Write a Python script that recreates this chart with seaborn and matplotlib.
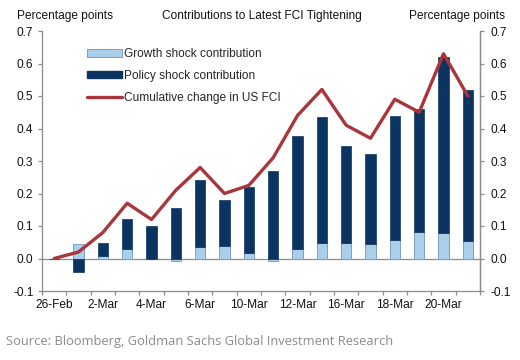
import numpy as np
import pandas as pd
import matplotlib
matplotlib.use("Agg")
import matplotlib.pyplot as plt
import seaborn as sns
from matplotlib.patches import Patch
from matplotlib.lines import Line2D

dates = ["26-Feb", "27-Feb", "2-Mar", "3-Mar", "4-Mar", "5-Mar", "6-Mar", "9-Mar",
         "10-Mar", "11-Mar", "12-Mar", "13-Mar", "16-Mar", "17-Mar", "18-Mar",
         "19-Mar", "20-Mar", "23-Mar"]
growth = [0.0, 0.045, 0.009, 0.028, -0.003, -0.008, 0.036, 0.039, 0.018, -0.007,
          0.028, 0.048, 0.048, 0.045, 0.058, 0.082, 0.079, 0.055]
policy = [0.0, -0.041, 0.039, 0.094, 0.100, 0.156, 0.206, 0.141, 0.202, 0.269,
          0.349, 0.387, 0.298, 0.278, 0.382, 0.377, 0.541, 0.465]
fci = [0.0, 0.02, 0.08, 0.17, 0.12, 0.21, 0.28, 0.20, 0.225, 0.31, 0.44, 0.52,
       0.41, 0.37, 0.49, 0.45, 0.63, 0.50]
yticks = [-0.1, 0.0, 0.1, 0.2, 0.3, 0.4, 0.5, 0.6, 0.7]

sns.set_style("white")
plt.rcParams["font.family"] = ["Liberation Sans", "DejaVu Sans"]

FS = 8.6
C_GROWTH = "#a9cfea"
C_GROWTH_EDGE = "#7f9fbd"
C_POLICY = "#0c3460"
C_LINE = "#a8363b"
C_AXIS = "#8c8c8c"
C_TXT = "#111111"

df = pd.DataFrame({"date": dates, "growth": growth, "policy": policy, "fci": fci})
g = np.array(growth)
p = np.array(policy)
bottom = np.where((p >= 0) == (g >= 0), g, 0.0)

fig = plt.figure(figsize=(5.2, 3.6), dpi=100)
ax = fig.add_axes([42 / 520, 1 - 291 / 360, 438 / 520, 260 / 360])

bw = 0.42
sns.barplot(data=df, x="date", y="growth", color=C_GROWTH, width=bw, ax=ax,
            edgecolor=C_GROWTH_EDGE, linewidth=0.7, saturation=1, zorder=2)
pos = np.arange(len(dates))
ax.bar(pos, p, bottom=bottom, width=bw, color=C_POLICY, edgecolor=C_POLICY,
       linewidth=0.5, zorder=2)
sns.lineplot(x=pos, y=df["fci"].values, color=C_LINE, linewidth=2.4, ax=ax, zorder=3)

ax.axhline(0, color=C_AXIS, linewidth=0.9, zorder=1)
ax.set_xlim(-0.5, len(dates) - 0.5)
ax.set_ylim(-0.1, 0.7)
ax.set_xlabel("")
ax.set_ylabel("")

ax.spines["top"].set_visible(False)
for s in ["left", "right", "bottom"]:
    ax.spines[s].set_visible(True)
    ax.spines[s].set_color(C_AXIS)
    ax.spines[s].set_linewidth(0.9)

ax.set_yticks(yticks)
ax.set_yticklabels([f"{v:.1f}" for v in yticks])
ax.tick_params(axis="y", direction="out", length=3.2, width=0.9, color=C_AXIS,
               labelsize=FS, pad=3, left=True, right=False, labelcolor=C_TXT)

ax.set_xticks(pos[::2])
ax.set_xticklabels(dates[::2])
ax.set_xticks(np.arange(-0.5, len(dates), 1.0), minor=True)
ax.tick_params(axis="x", which="major", length=0, labelsize=FS, pad=5.5,
               labelcolor=C_TXT)
ax.tick_params(axis="x", which="minor", direction="out", length=3.2, width=0.9,
               color=C_AXIS, bottom=True)

ax2 = ax.twinx()
ax2.set_ylim(-0.1, 0.7)
ax2.set_yticks(yticks)
ax2.set_yticklabels([f"{v:.1f}" for v in yticks])
ax2.tick_params(axis="y", direction="out", length=3.2, width=0.9, color=C_AXIS,
                labelsize=FS, pad=4.5, labelcolor=C_TXT)
for s in ["top", "left", "bottom"]:
    ax2.spines[s].set_visible(False)
ax2.spines["right"].set_color(C_AXIS)
ax2.spines["right"].set_linewidth(0.9)

handles = [
    Patch(facecolor=C_GROWTH, edgecolor=C_GROWTH_EDGE, linewidth=0.7),
    Patch(facecolor=C_POLICY, edgecolor=C_POLICY),
    Line2D([0], [0], color=C_LINE, linewidth=2.4),
]
labels = ["Growth shock contribution", "Policy shock contribution",
          "Cumulative change in US FCI"]
ax2.legend(handles, labels, loc="upper left", bbox_to_anchor=(0.092, 0.953),
           frameon=False, fontsize=FS, handlelength=2.9, handleheight=0.6,
           handletextpad=0.2, labelspacing=0.82, borderaxespad=0)

fig.text(17 / 520, 1 - 16 / 360, "Percentage points", fontsize=FS, va="center",
         ha="left", color=C_TXT)
fig.text(505 / 520, 1 - 16 / 360, "Percentage points", fontsize=FS, va="center",
         ha="right", color=C_TXT)
fig.text(262 / 520, 1 - 16 / 360, "Contributions to Latest FCI Tightening",
         fontsize=FS, va="center", ha="center", color=C_TXT)
fig.text(6 / 520, 1 - 342 / 360,
         "Source: Bloomberg, Goldman Sachs Global Investment Research",
         fontsize=9.3, va="center", ha="left", color="#8a8a8a",
         family=["Open Sans", "DejaVu Sans"])

fig.savefig("out.png", dpi=100)
